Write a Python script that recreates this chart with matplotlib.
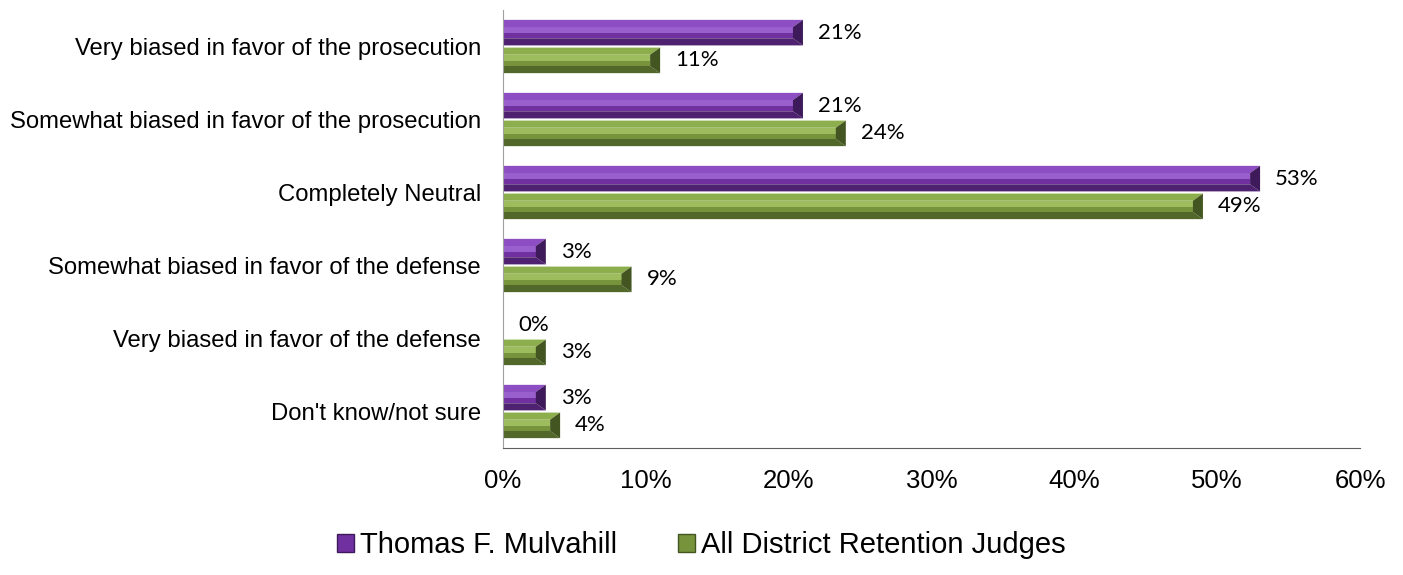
import numpy as np
import matplotlib.pyplot as plt
from matplotlib.patches import Polygon, Patch

# データ
categories = ['Very biased in favor of the prosecution',
              'Somewhat biased in favor of the prosecution',
              'Completely Neutral',
              'Somewhat biased in favor of the defense',
              'Very biased in favor of the defense',
              "Don't know/not sure"]
judge_vals = [21, 21, 53, 3, 0, 3]
all_vals = [11, 24, 49, 9, 3, 4]
series_names = ['Thomas F. Mulvahill', 'All District Retention Judges']
xticks = [0, 10, 20, 30, 40, 50, 60]

# 色 (base, top bevel, highlight, bottom bevel, right end)
purple = ['#7030A0', '#8C4EC2', '#A86FDC', '#4E2270', '#3E1A5A']
green = ['#77933C', '#8DAE4C', '#AACA6A', '#52672A', '#435521']

fig = plt.figure(figsize=(14.03, 5.75), dpi=100)
ax = fig.add_axes([0.3585, 0.2209, 0.6109, 0.7617])

n = len(categories)
ypos = np.arange(n)[::-1].astype(float)
h = 0.35
off = 0.19
xmax = 60
px_per_unit = 0.6109 * 1403 / xmax


def bevel_bar(ax, yc, w, cols):
    if w <= 0:
        return
    top = yc + h / 2
    bot = yc - h / 2
    dy = 0.28 * h
    dx = min(10 / px_per_unit, w / 2)
    base, light, hi, dark, end = cols
    ax.add_patch(Polygon([(0, bot + dy), (w - dx, bot + dy), (w - dx, top - dy), (0, top - dy)],
                         closed=True, facecolor=base, edgecolor='none'))
    # 中央のハイライト
    ax.add_patch(Polygon([(0, yc - 0.02 * h), (w - dx, yc - 0.02 * h),
                          (w - dx, top - dy), (0, top - dy)],
                         closed=True, facecolor=hi, edgecolor='none', alpha=0.75))
    ax.add_patch(Polygon([(0, top), (w, top), (w - dx, top - dy), (0, top - dy)],
                         closed=True, facecolor=light, edgecolor='none'))
    ax.add_patch(Polygon([(0, bot), (w, bot), (w - dx, bot + dy), (0, bot + dy)],
                         closed=True, facecolor=dark, edgecolor='none'))
    ax.add_patch(Polygon([(w, top), (w, bot), (w - dx, bot + dy), (w - dx, top - dy)],
                         closed=True, facecolor=end, edgecolor='none'))


for y, a, b in zip(ypos, judge_vals, all_vals):
    bevel_bar(ax, y + off, a, purple)
    bevel_bar(ax, y - off, b, green)
    ax.annotate(f'{a}%', (a, y + off), xytext=(15, 0), textcoords='offset pixels',
                ha='left', va='center', fontsize=16, family='Lato')
    ax.annotate(f'{b}%', (b, y - off), xytext=(15, 0), textcoords='offset pixels',
                ha='left', va='center', fontsize=16, family='Lato')

ax.set_xlim(0, xmax)
ax.set_ylim(-0.5, n - 0.5)
ax.set_xticks(xticks)
ax.set_xticklabels([f'{t}%' for t in xticks], fontsize=18.5, family='Liberation Sans')
ax.set_yticks(ypos)
ax.set_yticklabels(categories, fontsize=17.2, family='Liberation Sans')
ax.tick_params(axis='both', length=0)
ax.tick_params(axis='x', pad=15)
ax.tick_params(axis='y', pad=16)
for s in ['top', 'right']:
    ax.spines[s].set_visible(False)
ax.spines['left'].set_color('#a0a0a0')
ax.spines['bottom'].set_color('#606060')

handles = [Patch(facecolor=purple[0], edgecolor=purple[4]),
           Patch(facecolor=green[0], edgecolor=green[4])]
fig.legend(handles, series_names, loc='center', bbox_to_anchor=(0.5, 0.052), ncol=2,
           frameon=False, prop={'family': 'Liberation Sans', 'size': 21},
           handlelength=0.58, handleheight=0.58, handletextpad=0.2, columnspacing=2.1)

fig.savefig('out.png', dpi=100)
